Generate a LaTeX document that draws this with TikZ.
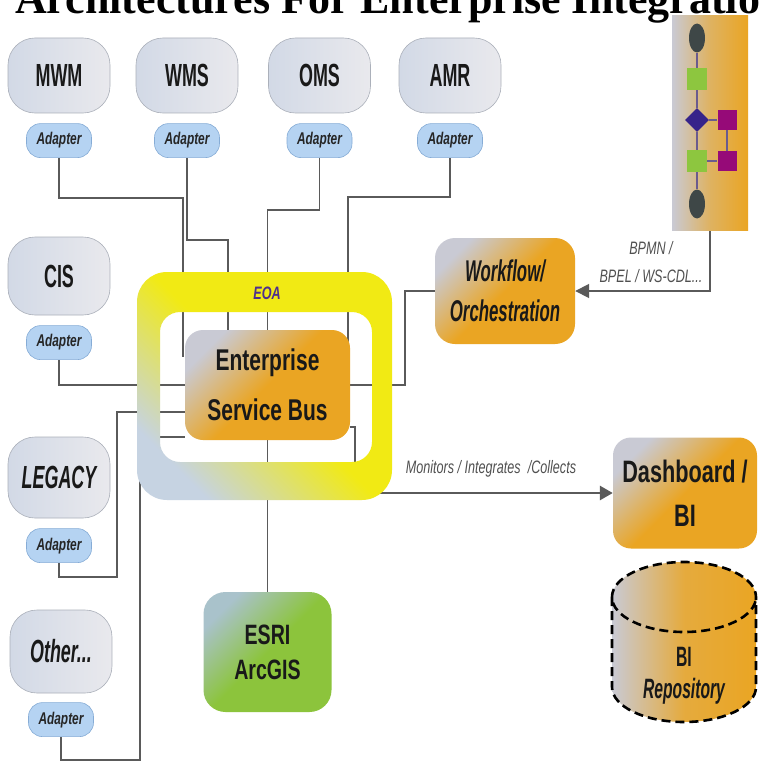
\documentclass[tikz,border=0pt]{standalone}
\usepackage{fontspec}
\setmainfont{Liberation Sans}
\newfontfamily\titlefont{Liberation Serif}
\newfontfamily\narrowsf[FakeStretch=0.56]{Liberation Sans}
\newfontfamily\condsf[FakeStretch=0.70]{Liberation Sans}
\usetikzlibrary{positioning,shapes.geometric,arrows.meta}

\definecolor{sysgrey}{HTML}{D2D9E6}
\definecolor{syslight}{HTML}{E9E9ED}
\definecolor{sysline}{HTML}{ABB0BA}
\definecolor{adaptblue}{HTML}{B5D3F2}
\definecolor{adaptline}{HTML}{86ACD6}
\definecolor{busorange}{HTML}{EAA523}
\definecolor{busgrey}{HTML}{C9CAD4}
\definecolor{gisgreen}{HTML}{8CC43C}
\definecolor{gisgrey}{HTML}{A9C2CB}
\definecolor{eoayellow}{HTML}{F1EA14}
\definecolor{eoablue}{HTML}{C6D3E2}
\definecolor{eoapurple}{HTML}{4E2E8E}
\definecolor{wiregrey}{HTML}{5A5A5A}
\definecolor{notegrey}{HTML}{505050}
\definecolor{flowdark}{HTML}{3E4747}
\definecolor{flowgreen}{HTML}{8DC63F}
\definecolor{flowblue}{HTML}{36248A}
\definecolor{flowpurple}{HTML}{960A78}
\definecolor{flowline}{HTML}{6A5B8E}

\pgfdeclarelayer{wires}
\pgfdeclarelayer{ring}
\pgfsetlayers{wires,ring,main}

\begin{document}
\begin{tikzpicture}[x=1pt, y=-1pt,
	system/.style={
		rectangle, rounded corners=27pt, draw=sysline, line width=0.6pt,
		left color=sysgrey, right color=syslight,
		minimum width=102pt, minimum height=75pt, inner sep=0pt,
		text=black!90, font=\narrowsf\bfseries\fontsize{32}{32}\selectfont
	},
	adapter/.style={
		rectangle, rounded corners=14pt, draw=adaptline, line width=0.6pt,
		fill=adaptblue, minimum width=65pt, minimum height=34pt, inner sep=0pt,
		text=black!85, font=\condsf\bfseries\itshape\fontsize{17}{17}\selectfont
	},
	hub/.style={
		rectangle, rounded corners=18pt, inner sep=0pt, align=center,
		top color=busgrey, bottom color=busorange, middle color=busorange,
		shading angle=45, text=black!90
	},
	gis/.style={
		rectangle, rounded corners=22pt, inner sep=0pt, align=center,
		top color=gisgrey, bottom color=gisgreen, middle color=gisgreen,
		shading angle=45, text=black!90
	},
	note/.style={text=notegrey, align=center, inner sep=0pt},
	wire/.style={draw=wiregrey, line width=1.8pt},
	flowbox/.style={
		rectangle, inner sep=0pt, minimum width=76pt, minimum height=214pt,
		left color=busgrey, right color=busorange, middle color=busorange!65!busgrey
	},
	flowend/.style={ellipse, fill=flowdark, minimum width=16pt, minimum height=29pt, inner sep=0pt},
	flowtask/.style={rectangle, fill=flowgreen, minimum width=20pt, minimum height=22pt, inner sep=0pt},
	flowgate/.style={diamond, fill=flowblue, minimum size=24pt, inner sep=0pt},
	flowsub/.style={rectangle, fill=flowpurple, minimum width=19pt, minimum height=20pt, inner sep=0pt},
	flowlink/.style={draw=flowline, line width=1.2pt}
	]
	\useasboundingbox (0,0) rectangle (758,765);

	\node[anchor=base west, inner sep=0pt, font=\titlefont\bfseries\fontsize{44}{44}\selectfont] (title) at (15,14) {Architectures For Enterprise Integratio};

	% systems on top, each with its adapter
	\foreach \name/\x/\txt in {mwm/59/MWM, wms/187/WMS, oms/319.5/OMS, amr/450/AMR}
	{
		\node[system] (\name) at (\x,75.5) {\txt};
		\node[adapter, below=10pt of \name] (ad\name) {Adapter};
	}

	% systems on the left
	\node[system, minimum height=78pt] (cis) at (59,276) {CIS};
	\node[adapter, below=10pt of cis] (adcis) {Adapter};
	\node[system, minimum height=81pt] (legacy) at (59,477.5) {\itshape LEGACY};
	\node[adapter, below=10pt of legacy] (adlegacy) {Adapter};
	\node[system, minimum height=83pt] (other) at (61,651.5) {\itshape Other...};
	\node[adapter, below=9pt of other] (adother) {Adapter};

	% bus in the middle
	\node[hub, minimum width=165pt, minimum height=110pt,
		font=\condsf\bfseries\fontsize{30}{50}\selectfont] (esb) at (267.5,385) {Enterprise\\Service Bus};
	\node[font=\condsf\bfseries\itshape\fontsize{18}{18}\selectfont, text=eoapurple] (eoa) at (267,293) {EOA};
	\node[gis, minimum width=128pt, minimum height=120pt,
		font=\condsf\bfseries\fontsize{28}{35}\selectfont] (esri) at (267.5,652) {ESRI\\ArcGIS};

	% orchestration and process
	\node[hub, minimum width=140pt, minimum height=106pt, rounded corners=20pt,
		font=\narrowsf\bfseries\itshape\fontsize{30}{40}\selectfont] (wf) at (505,291) {Workflow/\\Orchestration};
	\node[flowbox] (flow) at (710,123) {};
	\node[flowend] (start) at (697,38) {};
	\node[flowtask] (task1) at (697,79) {};
	\node[flowgate] (gate) at (697,120) {};
	\node[flowsub] (sub1) at (727,120) {};
	\node[flowtask] (task2) at (697,161) {};
	\node[flowsub] (sub2) at (727,161) {};
	\node[flowend] (stop) at (697,204) {};
	\draw[flowlink] (start) -- (task1);
	\draw[flowlink] (task1) -- (gate);
	\draw[flowlink] (gate) -- (task2);
	\draw[flowlink] (task2) -- (stop);
	\draw[flowlink] (gate) -- (sub1);
	\draw[flowlink] (sub1) -- (sub2);
	\draw[flowlink] (task2) -- (sub2);
	\node[note, font=\condsf\itshape\fontsize{18}{28}\selectfont] (bpmn) at (651,262) {BPMN /\\BPEL / WS-CDL...};

	% dashboard and repository
	\node[hub, minimum width=144pt, minimum height=111pt,
		font=\condsf\bfseries\fontsize{31}{44}\selectfont] (dash) at (685,493) {Dashboard /\\BI};
	\shade[left color=busgrey, right color=busorange, middle color=busorange!85!busgrey]
		(612,597) -- (612,687) arc[start angle=180, end angle=360, x radius=72pt, y radius=35pt]
		-- (756,597) arc[start angle=0, end angle=180, x radius=72pt, y radius=35pt] -- cycle;
	\draw[line width=2.6pt, dash pattern=on 9pt off 5pt]
		(612,597) -- (612,687) arc[start angle=180, end angle=360, x radius=72pt, y radius=35pt]
		-- (756,597) arc[start angle=0, end angle=180, x radius=72pt, y radius=35pt]
		arc[start angle=180, end angle=360, x radius=72pt, y radius=35pt];
	\node[align=center, text=black!90, font=\narrowsf\bfseries\fontsize{28}{32}\selectfont] (repo) at (684,676) {BI\\\itshape Repository};
	\node[note, font=\condsf\itshape\fontsize{18}{18}\selectfont] (monitor) at (491,469) {Monitors / Integrates~ /Collects};

	\coordinate (mwmIn) at (183,357);
	\coordinate (amrIn) at (348,345);

	\begin{pgfonlayer}{wires}
		\fill[white] (0,0) rectangle (758,765);
		\draw[wire] (admwm) |- (183,198) -- (mwmIn);
		\draw[wire] (adwms) |- (228,240) -- (esb.north -| 228,0);
		\draw[wire] (adoms) |- (esb.north |- 0,210) -- (esb.north);
		\draw[wire] (adamr) |- (348,197) -- (amrIn);
		\draw[wire] (adcis) |- (esb.west);
		\draw[wire] (adlegacy) |- (117,577) |- (esb.west |- 0,412);
		\draw[wire] (adother) |- (140,760) |- (esb.west |- 0,437);
		\draw[wire] (esb.south) -- (esri.north);
		\draw[wire] (wf) -| (405,385) -- (esb.east);
		\draw[wire, -{Triangle[length=14pt, width=14pt]}] (flow.south) |- (wf.east);
		\draw[wire, line width=2.8pt, -{Triangle[length=13pt, width=14pt]}] (esb.east |- 0,427) -| (355,493) -- (dash.west);
	\end{pgfonlayer}

	\begin{pgfonlayer}{ring}
		\shade[even odd rule, top color=eoayellow, bottom color=eoablue, middle color=eoayellow, shading angle=-45]
			[rounded corners=30pt] (137,272) rectangle (392,500)
			[rounded corners=20pt] (160,312) rectangle (372,462);
	\end{pgfonlayer}
\end{tikzpicture}
\end{document}
